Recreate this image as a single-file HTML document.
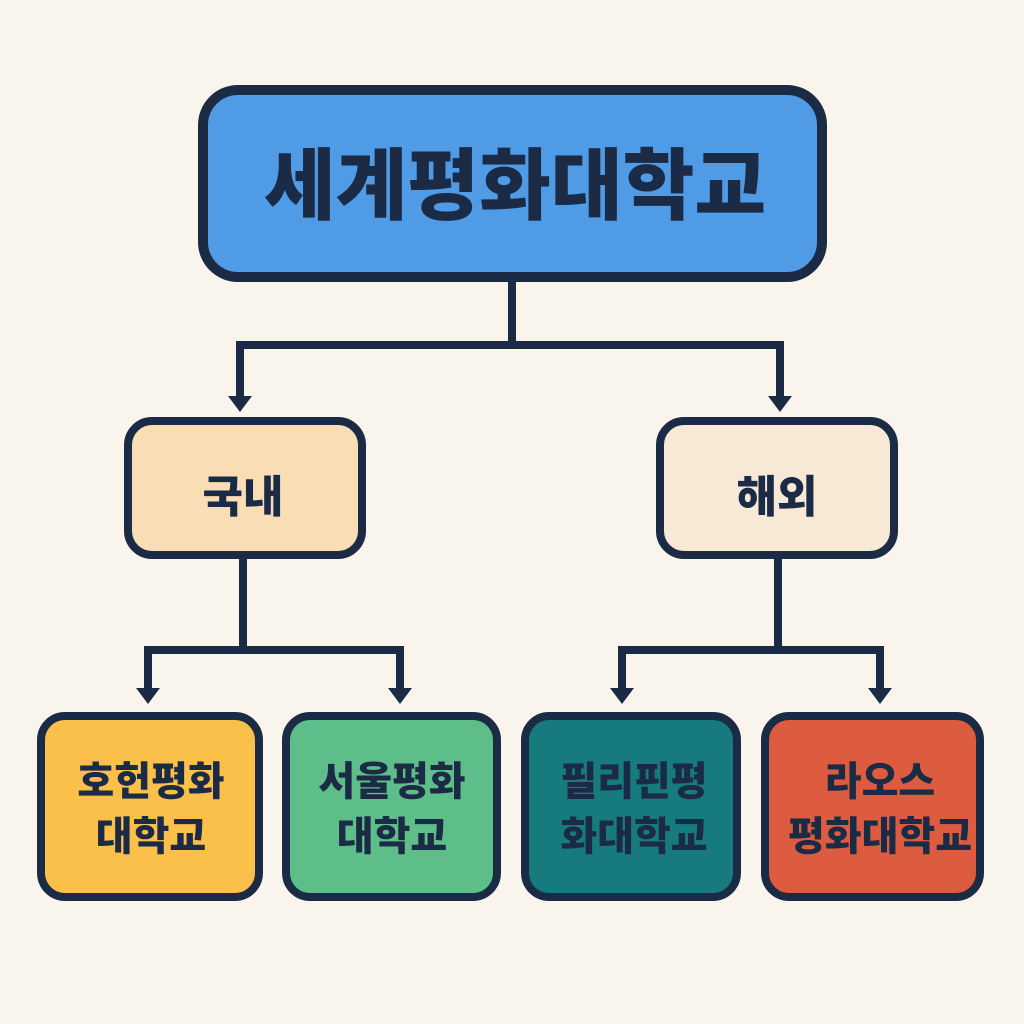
<!DOCTYPE html>
<html><head><meta charset="utf-8"><style>
html,body{margin:0;padding:0;background:#FAF5EC;}
svg{display:block}
text{font-family:"Liberation Sans","Noto Sans CJK KR","NanumGothic",sans-serif;font-weight:900;fill:#1B2A45;text-anchor:middle;}
</style></head><body>
<svg width="1024" height="1024" viewBox="0 0 1024 1024">
<rect width="1024" height="1024" fill="#FAF5EC"/>
<g stroke="#1B2A45" stroke-width="8" fill="none" stroke-linejoin="miter">
<path d="M512 280 V345 M240 345 H780 M240 341 V400 M780 341 V400"/>
<path d="M243 558 V650 M148 650 H400 M148 646 V692 M400 646 V692"/>
<path d="M778 558 V650 M622 650 H880 M622 646 V692 M880 646 V692"/>
</g>
<g fill="#1B2A45">
<path d="M228 396 L252 396 L240 412 Z"/>
<path d="M768 396 L792 396 L780 412 Z"/>
<path d="M136 688 L160 688 L148 704 Z"/>
<path d="M388 688 L412 688 L400 704 Z"/>
<path d="M610 688 L634 688 L622 704 Z"/>
<path d="M868 688 L892 688 L880 704 Z"/>
</g>
<g stroke="#1B2A45" stroke-width="10">
<rect x="203" y="90" width="619" height="187" rx="35" fill="#4F9BE6"/>
</g>
<g stroke="#1B2A45" stroke-width="8">
<rect x="128" y="421" width="234" height="134" rx="24" fill="#F8DDB5"/>
<rect x="660" y="421" width="234" height="134" rx="24" fill="#F7E9D6"/>
<rect x="41" y="716" width="218" height="181" rx="24" fill="#FBC04A"/>
<rect x="286" y="716" width="211" height="181" rx="24" fill="#5DBE8A"/>
<rect x="525" y="716" width="212" height="181" rx="24" fill="#167A7E"/>
<rect x="765" y="716" width="215" height="181" rx="24" fill="#DD5C40"/>
</g>
<text x="515" y="213" font-size="78">세계평화대학교</text>
<text x="243" y="512" font-size="44">국내</text>
<text x="777" y="512" font-size="44">해외</text>
<text x="151" y="795" font-size="40">호헌평화</text>
<text x="151" y="850" font-size="40">대학교</text>
<text x="392" y="795" font-size="40">서울평화</text>
<text x="392" y="850" font-size="40">대학교</text>
<text x="634" y="795" font-size="40">필리핀평</text>
<text x="634" y="850" font-size="40">화대학교</text>
<text x="880" y="795" font-size="40">라오스</text>
<text x="880" y="850" font-size="40">평화대학교</text>
</svg>
</body></html>
